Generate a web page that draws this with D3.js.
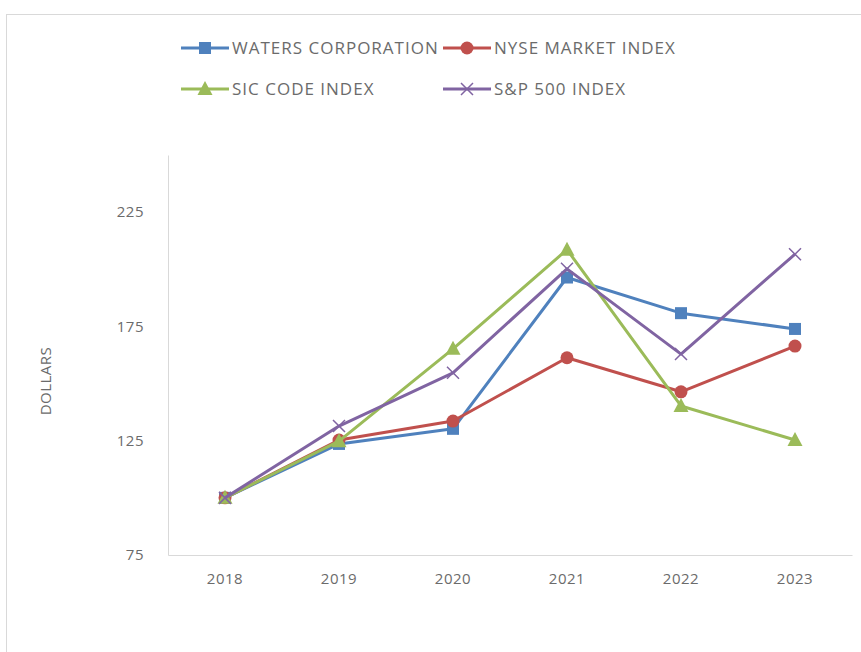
<!DOCTYPE html>
<html>
<head>
<meta charset="utf-8">
<script src="https://cdn.jsdelivr.net/npm/d3@7"></script>
<style>
  body { margin: 0; background: #fff; }
  text { font-family: "Open Sans", Lato, sans-serif; fill: #6b6b6b; }
</style>
</head>
<body>
<div id="chart"></div>
<script>
// chart values
var years = ["2018", "2019", "2020", "2021", "2022", "2023"];
var seriesNames = ["WATERS CORPORATION", "NYSE MARKET INDEX", "SIC CODE INDEX", "S&P 500 INDEX"];
var waters = [100, 123.6, 130.2, 196.4, 180.8, 173.9];
var nyse = [100, 125.3, 133.6, 161.3, 146.4, 166.4];
var sic = [100, 124.8, 165.2, 208.6, 140.2, 125.3];
var sp500 = [100, 131.4, 154.7, 200.2, 162.9, 206.6];
var yTicks = [75, 125, 175, 225];

var colors = ["#4f81bd", "#c0504d", "#9bbb59", "#8064a2"];
var markers = ["square", "circle", "triangle", "cross"];
var allSeries = [waters, nyse, sic, sp500];

var width = 861, height = 652;
var margin = {top: 155, left: 168, right: 9, bottom: 97};

var svg = d3.select("#chart")
  .append("svg")
  .attr("width", width)
  .attr("height", height);

// outer frame
svg.append("rect")
  .attr("x", 6.5).attr("y", 14.5)
  .attr("width", 900).attr("height", 700)
  .attr("fill", "#fff")
  .attr("stroke", "#d9d9d9");

var xScale = d3.scaleBand()
  .domain(years)
  .range([margin.left, width - margin.right]);

var yScale = d3.scaleLinear()
  .domain([75, 250])
  .range([height - margin.bottom, margin.top]);

// axes
var xAxis = svg.append("g")
  .attr("transform", `translate(0,${height - margin.bottom})`)
  .call(d3.axisBottom(xScale).tickSize(0).tickPadding(18));
xAxis.select(".domain").attr("stroke", "#d9d9d9");
xAxis.selectAll(".tick text")
  .style("font-size", "15px").style("letter-spacing", "0.5px")
  .style("font-family", "'Open Sans', sans-serif").attr("fill", "#6b6b6b");

var yAxis = svg.append("g")
  .attr("transform", `translate(${margin.left},0)`)
  .call(d3.axisLeft(yScale).tickValues(yTicks).tickSize(0).tickPadding(24));
yAxis.select(".domain").attr("stroke", "#d9d9d9");
yAxis.selectAll(".tick text")
  .style("font-size", "15px").style("letter-spacing", "0.5px")
  .style("font-family", "'Open Sans', sans-serif").attr("fill", "#6b6b6b");

svg.append("text")
  .attr("transform", "translate(51,381)rotate(-90)")
  .attr("text-anchor", "middle")
  .style("font-size", "15px")
  .style("letter-spacing", "0.5px")
  .text("DOLLARS");

function xPos(i) { return xScale(years[i]) + xScale.bandwidth() / 2; }

function drawMarker(g, type, x, y, color) {
  if (type === "square") {
    g.append("rect").attr("x", x - 6).attr("y", y - 6).attr("width", 12).attr("height", 12).attr("fill", color);
  } else if (type === "circle") {
    g.append("circle").attr("cx", x).attr("cy", y).attr("r", 6.5).attr("fill", color);
  } else if (type === "triangle") {
    g.append("path").attr("d", `M${x},${y - 8}L${x + 7.5},${y + 6}L${x - 7.5},${y + 6}Z`).attr("fill", color);
  } else {
    g.append("path").attr("d", `M${x - 6},${y - 6}L${x + 6},${y + 6}M${x - 6},${y + 6}L${x + 6},${y - 6}`)
      .attr("stroke", color).attr("stroke-width", 1.5).attr("fill", "none");
  }
}

var line = d3.line()
  .x(function(d, i) { return xPos(i); })
  .y(function(d) { return yScale(d); });

allSeries.forEach(function(vals, s) {
  var g = svg.append("g");
  g.append("path")
    .datum(vals)
    .attr("d", line)
    .attr("fill", "none")
    .attr("stroke", colors[s])
    .attr("stroke-width", 3)
    .attr("stroke-linejoin", "round");
  vals.forEach(function(v, i) {
    drawMarker(g, markers[s], xPos(i), yScale(v), colors[s]);
  });
});

// legend
var legendPos = [[181, 48], [443, 48], [181, 89], [443, 89]];
seriesNames.forEach(function(name, s) {
  var lg = svg.append("g");
  var lx = legendPos[s][0], ly = legendPos[s][1];
  lg.append("line")
    .attr("x1", lx).attr("x2", lx + 48)
    .attr("y1", ly).attr("y2", ly)
    .attr("stroke", colors[s]).attr("stroke-width", 3);
  drawMarker(lg, markers[s], lx + 24, ly, colors[s]);
  lg.append("text")
    .attr("x", lx + 51).attr("y", ly + 6)
    .style("font-size", "17px")
    .style("letter-spacing", "1px")
    .text(name);
});
</script>
</body>
</html>
